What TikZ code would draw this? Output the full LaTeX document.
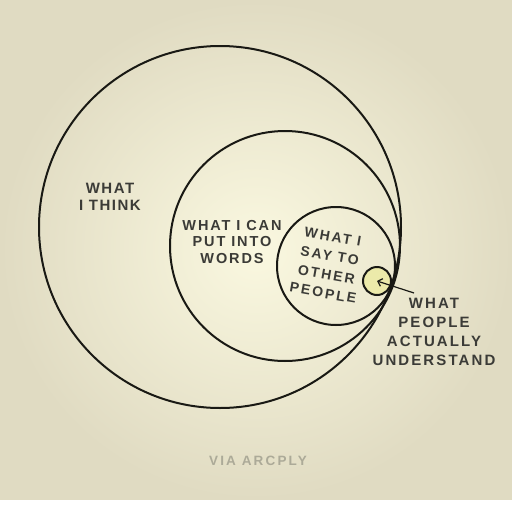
\documentclass[tikz,border=0pt]{standalone}
\usepackage{fontspec}
\usetikzlibrary{arrows.meta}
\newfontfamily\hand{Liberation Sans Bold}
\newcommand\spaced[1]{\addfontfeature{LetterSpace=#1}}

\definecolor{paper}{RGB}{250,248,224}
\definecolor{paperedge}{RGB}{224,219,194}
\definecolor{ink}{RGB}{25,25,20}
\definecolor{pale}{RGB}{236,234,170}
\definecolor{credit}{RGB}{172,170,152}

\tikzset{
  ring/.style={line width=2pt, draw=ink},
  says/.style={text=ink!85, align=center, inner sep=0pt}
}

\begin{document}
\begin{tikzpicture}[x=1pt,y=-1pt]
\useasboundingbox (0,0) rectangle (512,512);
% paper
\shade[inner color=paper, outer color=paperedge] (0,0) rectangle (512,500);
\fill[white] (0,500) rectangle (512,512);
% the four circles
\draw[ring] (220,227) circle (181);
\draw[ring] (285,246) circle (115);
\draw[ring] (336,266) circle (59);
\node[ring, circle, fill=pale, minimum size=28pt, inner sep=0pt] (grasp) at (377,281) {};
% labels
\node[says, font=\hand\fontsize{15}{17}\selectfont\spaced{10}] (think) at (110,197) {WHAT\\I THINK};
\node[says, font=\hand\fontsize{14.5}{16.5}\selectfont\spaced{13}] (words) at (232,242) {WHAT I CAN\\PUT INTO\\WORDS};
\node[says, rotate=-10, font=\hand\fontsize{14}{19}\selectfont\spaced{15}] (say) at (328,265) {WHAT I\\SAY TO\\OTHER\\PEOPLE};
\node[says, font=\hand\fontsize{15}{19}\selectfont\spaced{14}] (understand) at (434,332) {WHAT\\PEOPLE\\ACTUALLY\\UNDERSTAND};
\node[text=credit, inner sep=0pt, font=\hand\fontsize{13.5}{16}\selectfont\spaced{16}] (via) at (258,461) {VIA ARCPLY};
% arrow into the small circle
\coordinate (tail) at (414,293);
\draw[ink, line width=1.2pt, -{Straight Barb[length=4pt]}] (tail) -- (grasp.center);
\end{tikzpicture}
\end{document}
